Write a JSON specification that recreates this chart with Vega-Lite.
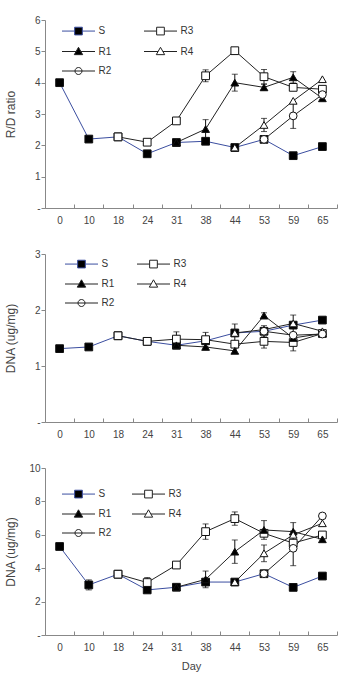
{
  "$schema": "https://vega.github.io/schema/vega-lite/v6.json",
  "padding": {"left": 4, "top": 15, "right": 2, "bottom": 2},
  "spacing": 24,
  "config": {
    "font": "Liberation Sans",
    "view": {"stroke": null},
    "axis": {"labelColor": "#444", "titleColor": "#444", "domainColor": "#888", "tickColor": "#888", "labelFontSize": 10, "titleFontSize": 12, "titleFontWeight": "normal", "grid": false},
    "legend": {"labelColor": "#333", "labelFontSize": 10}
  },
  "datasets": {
    "rd": [
      {"series": "S", "day": 0, "v": 4.0}, {"series": "S", "day": 10, "v": 2.2}, {"series": "S", "day": 18, "v": 2.27}, {"series": "S", "day": 24, "v": 1.73}, {"series": "S", "day": 31, "v": 2.09}, {"series": "S", "day": 38, "v": 2.13}, {"series": "S", "day": 44, "v": 1.93}, {"series": "S", "day": 53, "v": 2.19}, {"series": "S", "day": 59, "v": 1.67}, {"series": "S", "day": 65, "v": 1.96},
      {"series": "R3", "day": 18, "v": 2.27}, {"series": "R3", "day": 24, "v": 2.1}, {"series": "R3", "day": 31, "v": 2.78}, {"series": "R3", "day": 38, "v": 4.22, "err": 0.19}, {"series": "R3", "day": 44, "v": 5.02, "err": 0.1}, {"series": "R3", "day": 53, "v": 4.19, "err": 0.23}, {"series": "R3", "day": 59, "v": 3.85, "err": 0.1}, {"series": "R3", "day": 65, "v": 3.79},
      {"series": "R1", "day": 31, "v": 2.09}, {"series": "R1", "day": 38, "v": 2.52, "err": 0.3}, {"series": "R1", "day": 44, "v": 4.0, "err": 0.27}, {"series": "R1", "day": 53, "v": 3.85, "err": 0.1}, {"series": "R1", "day": 59, "v": 4.17, "err": 0.18}, {"series": "R1", "day": 65, "v": 3.5},
      {"series": "R4", "day": 44, "v": 1.93}, {"series": "R4", "day": 53, "v": 2.65, "err": 0.21}, {"series": "R4", "day": 59, "v": 3.42}, {"series": "R4", "day": 65, "v": 4.11},
      {"series": "R2", "day": 53, "v": 2.19}, {"series": "R2", "day": 59, "v": 2.94, "err": 0.4}, {"series": "R2", "day": 65, "v": 3.62}
    ],
    "dna1": [
      {"series": "S", "day": 0, "v": 1.31}, {"series": "S", "day": 10, "v": 1.34}, {"series": "S", "day": 18, "v": 1.54}, {"series": "S", "day": 24, "v": 1.44}, {"series": "S", "day": 31, "v": 1.37}, {"series": "S", "day": 38, "v": 1.45}, {"series": "S", "day": 44, "v": 1.59, "err": 0.16}, {"series": "S", "day": 53, "v": 1.62, "err": 0.1}, {"series": "S", "day": 59, "v": 1.73, "err": 0.18}, {"series": "S", "day": 65, "v": 1.82},
      {"series": "R3", "day": 18, "v": 1.54}, {"series": "R3", "day": 24, "v": 1.44}, {"series": "R3", "day": 31, "v": 1.48, "err": 0.13}, {"series": "R3", "day": 38, "v": 1.47, "err": 0.13}, {"series": "R3", "day": 44, "v": 1.39}, {"series": "R3", "day": 53, "v": 1.44, "err": 0.12}, {"series": "R3", "day": 59, "v": 1.42, "err": 0.15}, {"series": "R3", "day": 65, "v": 1.58},
      {"series": "R1", "day": 31, "v": 1.37}, {"series": "R1", "day": 38, "v": 1.34}, {"series": "R1", "day": 44, "v": 1.27}, {"series": "R1", "day": 53, "v": 1.9, "err": 0.05}, {"series": "R1", "day": 59, "v": 1.5}, {"series": "R1", "day": 65, "v": 1.58},
      {"series": "R4", "day": 44, "v": 1.59}, {"series": "R4", "day": 53, "v": 1.65}, {"series": "R4", "day": 59, "v": 1.76}, {"series": "R4", "day": 65, "v": 1.62},
      {"series": "R2", "day": 53, "v": 1.62}, {"series": "R2", "day": 59, "v": 1.55}, {"series": "R2", "day": 65, "v": 1.57}
    ],
    "dna2": [
      {"series": "S", "day": 0, "v": 5.3}, {"series": "S", "day": 10, "v": 3.0, "err": 0.3}, {"series": "S", "day": 18, "v": 3.64}, {"series": "S", "day": 24, "v": 2.7}, {"series": "S", "day": 31, "v": 2.86}, {"series": "S", "day": 38, "v": 3.17}, {"series": "S", "day": 44, "v": 3.17}, {"series": "S", "day": 53, "v": 3.67}, {"series": "S", "day": 59, "v": 2.85}, {"series": "S", "day": 65, "v": 3.53},
      {"series": "R3", "day": 18, "v": 3.64}, {"series": "R3", "day": 24, "v": 3.14, "err": 0.3}, {"series": "R3", "day": 31, "v": 4.19}, {"series": "R3", "day": 38, "v": 6.19, "err": 0.46}, {"series": "R3", "day": 44, "v": 6.97, "err": 0.4}, {"series": "R3", "day": 53, "v": 6.09}, {"series": "R3", "day": 59, "v": 5.5}, {"series": "R3", "day": 65, "v": 5.99},
      {"series": "R1", "day": 31, "v": 2.86}, {"series": "R1", "day": 38, "v": 3.33, "err": 0.5}, {"series": "R1", "day": 44, "v": 4.99, "err": 0.7}, {"series": "R1", "day": 53, "v": 6.29, "err": 0.56}, {"series": "R1", "day": 59, "v": 6.19, "err": 0.54}, {"series": "R1", "day": 65, "v": 5.73},
      {"series": "R4", "day": 44, "v": 3.17}, {"series": "R4", "day": 53, "v": 4.89, "err": 0.5}, {"series": "R4", "day": 59, "v": 6.0}, {"series": "R4", "day": 65, "v": 6.69},
      {"series": "R2", "day": 53, "v": 3.67}, {"series": "R2", "day": 59, "v": 5.19, "err": 1.04}, {"series": "R2", "day": 65, "v": 7.13}
    ]
  },
  "resolve": {"scale": {"shape": "independent", "fill": "independent", "stroke": "independent", "y": "independent"}, "legend": {"shape": "independent", "fill": "independent", "stroke": "independent"}},
  "vconcat": [
    {
      "width": 292, "height": 188,
      "data": {"name": "rd"},
      "encoding": {
        "x": {"field": "day", "type": "ordinal", "scale": {"type": "band", "domain": [0, 10, 18, 24, 31, 38, 44, 53, 59, 65], "paddingInner": 0, "paddingOuter": 0}, "axis": {"title": null, "tickBand": "extent", "tickSize": -4, "labelPadding": 11, "labelAngle": 0}},
        "y": {"field": "v", "type": "quantitative", "scale": {"domain": [0, 6]}, "axis": {"title": "R/D ratio", "values": [0, 1, 2, 3, 4, 5, 6], "labelExpr": "datum.value == 0 ? '-' : datum.label", "tickSize": 4, "labelPadding": 1, "titlePadding": 17}}
      },
      "layer": [
        {"mark": {"type": "line", "strokeWidth": 1}, "encoding": {"detail": {"field": "series", "type": "nominal"}, "color": {"condition": {"test": "datum.series === 'S'", "value": "#3b4ea0"}, "value": "#222222"}}},
        {"transform": [{"filter": "datum.err > 0"}], "mark": {"type": "errorbar", "ticks": {"size": 6}, "color": "#111"}, "encoding": {"yError": {"field": "err"}}},
        {"mark": {"type": "point", "stroke": "#111", "strokeWidth": 1, "opacity": 1, "fillOpacity": 1, "size": 60},
         "encoding": {
           "fill": {"condition": {"test": "datum.series === 'S' || datum.series === 'R1'", "value": "black"}, "value": "white"},
           "shape": {"condition": [{"test": "datum.series === 'R2'", "value": "circle"}, {"test": "datum.series === 'R1' || datum.series === 'R4'", "value": "triangle-up"}], "value": "square"}
         }},
        {"transform": [{"filter": "false"}],
         "mark": {"type": "point", "strokeWidth": 1, "opacity": 1, "fillOpacity": 1},
         "encoding": {
           "fill": {"field": "series", "type": "nominal", "scale": {"domain": ["S", "R1", "R2", "R3", "R4"], "range": ["black", "black", "white", "white", "white"]}},
           "stroke": {"field": "series", "type": "nominal", "scale": {"domain": ["S", "R1", "R2", "R3", "R4"], "range": ["#3b4ea0", "#222222", "#222222", "#222222", "#222222"]}},
           "shape": {"field": "series", "type": "nominal", "scale": {"domain": ["S", "R1", "R2", "R3", "R4"], "range": ["M-1,0H2.61M4.81,0H8.43M2.61,-1.1H4.81V1.1H2.61Z", "M-1,0H3.02M4.4,0H8.43M3.71,-1.2L4.91,0.9H2.51Z", "M-1,0H8.43M2.71,0A1,1,0,1,0,4.71,0A1,1,0,1,0,2.71,0Z", "M-1,0H2.61M4.81,0H8.43M2.61,-1.1H4.81V1.1H2.61Z", "M-1,0H3.02M4.4,0H8.43M3.71,-1.2L4.91,0.9H2.51Z"]},
             "legend": {"orient": "none", "legendX": 15.5, "legendY": 6, "columns": 2, "columnPadding": 30, "rowPadding": 7.5, "title": null, "symbolSize": 49, "symbolStrokeWidth": 1, "labelOffset": 28}}
         }}
      ]
    },
    {
      "width": 292, "height": 168,
      "data": {"name": "dna1"},
      "encoding": {
        "x": {"field": "day", "type": "ordinal", "scale": {"type": "band", "domain": [0, 10, 18, 24, 31, 38, 44, 53, 59, 65], "paddingInner": 0, "paddingOuter": 0}, "axis": {"title": null, "tickBand": "extent", "tickSize": -4, "labelPadding": 11, "labelAngle": 0}},
        "y": {"field": "v", "type": "quantitative", "scale": {"domain": [0, 3]}, "axis": {"title": "DNA (ug/mg)", "values": [0, 1, 2, 3], "labelExpr": "datum.value == 0 ? '-' : datum.label", "tickSize": 4, "labelPadding": 1, "titlePadding": 17}}
      },
      "layer": [
        {"mark": {"type": "line", "strokeWidth": 1}, "encoding": {"detail": {"field": "series", "type": "nominal"}, "color": {"condition": {"test": "datum.series === 'S'", "value": "#3b4ea0"}, "value": "#222222"}}},
        {"transform": [{"filter": "datum.err > 0"}], "mark": {"type": "errorbar", "ticks": {"size": 6}, "color": "#111"}, "encoding": {"yError": {"field": "err"}}},
        {"mark": {"type": "point", "stroke": "#111", "strokeWidth": 1, "opacity": 1, "fillOpacity": 1, "size": 60},
         "encoding": {
           "fill": {"condition": {"test": "datum.series === 'S' || datum.series === 'R1'", "value": "black"}, "value": "white"},
           "shape": {"condition": [{"test": "datum.series === 'R2'", "value": "circle"}, {"test": "datum.series === 'R1' || datum.series === 'R4'", "value": "triangle-up"}], "value": "square"}
         }},
        {"transform": [{"filter": "false"}],
         "mark": {"type": "point", "strokeWidth": 1, "opacity": 1, "fillOpacity": 1},
         "encoding": {
           "fill": {"field": "series", "type": "nominal", "scale": {"domain": ["S", "R1", "R2", "R3", "R4"], "range": ["black", "black", "white", "white", "white"]}},
           "stroke": {"field": "series", "type": "nominal", "scale": {"domain": ["S", "R1", "R2", "R3", "R4"], "range": ["#3b4ea0", "#222222", "#222222", "#222222", "#222222"]}},
           "shape": {"field": "series", "type": "nominal", "scale": {"domain": ["S", "R1", "R2", "R3", "R4"], "range": ["M-1,0H2.61M4.81,0H8.43M2.61,-1.1H4.81V1.1H2.61Z", "M-1,0H3.02M4.4,0H8.43M3.71,-1.2L4.91,0.9H2.51Z", "M-1,0H8.43M2.71,0A1,1,0,1,0,4.71,0A1,1,0,1,0,2.71,0Z", "M-1,0H2.61M4.81,0H8.43M2.61,-1.1H4.81V1.1H2.61Z", "M-1,0H3.02M4.4,0H8.43M3.71,-1.2L4.91,0.9H2.51Z"]},
             "legend": {"orient": "none", "legendX": 18.5, "legendY": 5, "columns": 2, "columnPadding": 20, "rowPadding": 7, "title": null, "symbolSize": 49, "symbolStrokeWidth": 1, "labelOffset": 28}}
         }}
      ]
    },
    {
      "width": 292, "height": 167,
      "data": {"name": "dna2"},
      "encoding": {
        "x": {"field": "day", "type": "ordinal", "scale": {"type": "band", "domain": [0, 10, 18, 24, 31, 38, 44, 53, 59, 65], "paddingInner": 0, "paddingOuter": 0}, "axis": {"title": "Day", "titleFontSize": 11, "titlePadding": 8, "tickBand": "extent", "tickSize": -4, "labelPadding": 11, "labelAngle": 0}},
        "y": {"field": "v", "type": "quantitative", "scale": {"domain": [0, 10]}, "axis": {"title": "DNA (ug/mg)", "values": [0, 2, 4, 6, 8, 10], "labelExpr": "datum.value == 0 ? '-' : datum.label", "tickSize": 4, "labelPadding": 1, "titlePadding": 11}}
      },
      "layer": [
        {"mark": {"type": "line", "strokeWidth": 1}, "encoding": {"detail": {"field": "series", "type": "nominal"}, "color": {"condition": {"test": "datum.series === 'S'", "value": "#3b4ea0"}, "value": "#222222"}}},
        {"transform": [{"filter": "datum.err > 0"}], "mark": {"type": "errorbar", "ticks": {"size": 6}, "color": "#111"}, "encoding": {"yError": {"field": "err"}}},
        {"mark": {"type": "point", "stroke": "#111", "strokeWidth": 1, "opacity": 1, "fillOpacity": 1, "size": 60},
         "encoding": {
           "fill": {"condition": {"test": "datum.series === 'S' || datum.series === 'R1'", "value": "black"}, "value": "white"},
           "shape": {"condition": [{"test": "datum.series === 'R2'", "value": "circle"}, {"test": "datum.series === 'R1' || datum.series === 'R4'", "value": "triangle-up"}], "value": "square"}
         }},
        {"transform": [{"filter": "false"}],
         "mark": {"type": "point", "strokeWidth": 1, "opacity": 1, "fillOpacity": 1},
         "encoding": {
           "fill": {"field": "series", "type": "nominal", "scale": {"domain": ["S", "R1", "R2", "R3", "R4"], "range": ["black", "black", "white", "white", "white"]}},
           "stroke": {"field": "series", "type": "nominal", "scale": {"domain": ["S", "R1", "R2", "R3", "R4"], "range": ["#3b4ea0", "#222222", "#222222", "#222222", "#222222"]}},
           "shape": {"field": "series", "type": "nominal", "scale": {"domain": ["S", "R1", "R2", "R3", "R4"], "range": ["M-1,0H2.61M4.81,0H8.43M2.61,-1.1H4.81V1.1H2.61Z", "M-1,0H3.02M4.4,0H8.43M3.71,-1.2L4.91,0.9H2.51Z", "M-1,0H8.43M2.71,0A1,1,0,1,0,4.71,0A1,1,0,1,0,2.71,0Z", "M-1,0H2.61M4.81,0H8.43M2.61,-1.1H4.81V1.1H2.61Z", "M-1,0H3.02M4.4,0H8.43M3.71,-1.2L4.91,0.9H2.51Z"]},
             "legend": {"orient": "none", "legendX": 15.5, "legendY": 21, "columns": 2, "columnPadding": 18, "rowPadding": 7, "title": null, "symbolSize": 49, "symbolStrokeWidth": 1, "labelOffset": 28}}
         }}
      ]
    }
  ]
}
